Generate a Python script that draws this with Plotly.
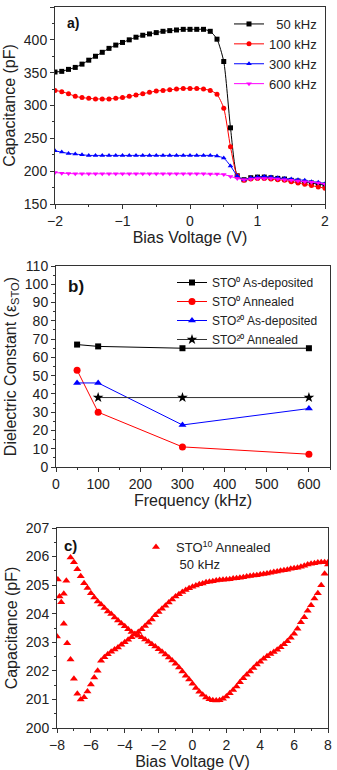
import plotly.graph_objects as go

# ---------------- Panel a: C-V at several frequencies ----------------
bias_a = [-2.0, -1.9, -1.8, -1.7, -1.6, -1.5, -1.4, -1.3, -1.2, -1.1, -1.0,
          -0.9, -0.8, -0.7, -0.6, -0.5, -0.4, -0.3, -0.2, -0.1, 0.0,
          0.1, 0.2, 0.3, 0.4, 0.5, 0.6, 0.7, 0.8, 0.9, 1.0,
          1.1, 1.2, 1.3, 1.4, 1.5, 1.6, 1.7, 1.8, 1.9, 2.0]
cap_50k = [351, 352, 355, 358, 363, 369, 375, 381, 387, 392, 396,
           400, 404, 407, 409, 411, 413, 414, 415, 416, 416,
           416, 416, 413, 401, 367, 266, 193, 187, 190, 191,
           191, 190, 189, 188, 186, 185, 183, 182, 180, 179]
cap_100k = [323, 321, 318, 314, 312, 311, 310, 310, 310, 311, 312,
            314, 316, 318, 320, 322, 323, 324, 325, 326, 326,
            326, 325, 323, 317, 296, 237, 193, 186, 188, 189,
            189, 188, 187, 186, 184, 182, 180, 178, 176, 174]
cap_300k = [231, 229, 227, 226, 225, 224, 224, 224, 224, 224, 224,
            224, 224, 224, 224, 224, 224, 224, 224, 224, 224,
            224, 224, 224, 223, 220, 208, 193, 187, 190, 191,
            192, 191, 190, 189, 188, 187, 186, 184, 183, 181]
cap_600k = [198, 197, 196.5, 196, 196, 196, 196, 196, 196, 196, 196,
            196, 196, 196, 196, 196, 196, 196, 196, 196, 196,
            196, 196, 195.5, 195.5, 195, 192, 189, 187, 188, 189,
            189, 189, 188, 187, 186, 185, 184, 183, 182, 180]
names_a = ["  50 kHz", "100 kHz", "300 kHz", "600 kHz"]

# ---------------- Panel b: dielectric constant vs frequency ----------------
freq = [50, 100, 300, 600]
eps_sto0_asdep = [67, 66, 65, 65]
eps_sto0_ann = [53, 30, 11, 7]
eps_sto20_asdep = [46, 46, 23, 32]
freq_sto20_ann = [100, 300, 600]
eps_sto20_ann = [38, 38, 38]
names_b = ["STO⁰ As-deposited", "STO⁰ Annealed",
           "STO²⁰ As-deposited", "STO²⁰ Annealed"]

# ---------------- Panel c: hysteresis C-V, STO10 annealed 50 kHz ----------------
bias_c_down = [-7.2, -7.0, -6.8, -6.6, -6.4, -6.2, -6.0, -5.8, -5.6, -5.4, -5.2,
               -5.0, -4.8, -4.6, -4.4, -4.2, -4.0, -3.8, -3.6, -3.4, -3.2,
               -3.0, -2.8, -2.6, -2.4, -2.2, -2.0, -1.8, -1.6, -1.4, -1.2,
               -1.0, -0.8, -0.6, -0.4, -0.2, 0.0, 0.2, 0.4, 0.6, 0.8,
               1.0, 1.2, 1.4, 1.6, 1.8, 2.0, 2.2, 2.4, 2.6, 2.8,
               3.0, 3.2, 3.4, 3.6, 3.8, 4.0, 4.2, 4.4, 4.6, 4.8,
               5.0, 5.2, 5.4, 5.6, 5.8, 6.0, 6.2, 6.4, 6.6, 6.8,
               7.0, 7.2, 7.4, 7.6, 7.8, 8.0]
cap_c_down = [205.97, 205.8, 205.56, 205.31, 205.07, 204.9, 204.72, 204.57, 204.43, 204.32, 204.2,
              204.08, 203.99, 203.87, 203.76, 203.66, 203.56, 203.46, 203.36, 203.29, 203.23,
              203.18, 203.1, 203.02, 202.93, 202.85, 202.76, 202.67, 202.57, 202.47, 202.36,
              202.25, 202.12, 201.98, 201.83, 201.7, 201.55, 201.4, 201.27, 201.16, 201.07,
              201.01, 200.97, 200.96, 200.97, 201.02, 201.1, 201.22, 201.33, 201.45, 201.6,
              201.74, 201.86, 201.98, 202.1, 202.22, 202.32, 202.42, 202.51, 202.59, 202.66,
              202.74, 202.83, 202.93, 203.04, 203.16, 203.3, 203.47, 203.7, 203.88, 204.1,
              204.3, 204.53, 204.72, 205.0, 205.4, 205.72]
bias_c_up = [-6.6, -6.4, -6.2, -6.0, -5.8, -5.6, -5.4, -5.2,
             -5.0, -4.8, -4.6, -4.4, -4.2, -4.0, -3.8, -3.6, -3.4, -3.2,
             -3.0, -2.8, -2.6, -2.4, -2.2, -2.0, -1.8, -1.6, -1.4, -1.2,
             -1.0, -0.8, -0.6, -0.4, -0.2, 0.0, 0.2, 0.4, 0.6, 0.8,
             1.0, 1.2, 1.4, 1.6, 1.8, 2.0, 2.2, 2.4, 2.6, 2.8,
             3.0, 3.2, 3.4, 3.6, 3.8, 4.0, 4.2, 4.4, 4.6, 4.8,
             5.0, 5.2, 5.4, 5.6, 5.8, 6.0, 6.2, 6.4, 6.6, 6.8,
             7.0, 7.2, 7.4, 7.6, 7.8, 8.0]
cap_c_up = [201.0, 201.08, 201.28, 201.52, 201.77, 202.0, 202.35, 202.48,
            202.58, 202.67, 202.75, 202.82, 202.91, 203.0, 203.09, 203.18, 203.27, 203.36,
            203.46, 203.57, 203.68, 203.8, 203.95, 204.06, 204.17, 204.28, 204.39, 204.5,
            204.6, 204.68, 204.76, 204.83, 204.89, 204.94, 204.99, 205.03, 205.06, 205.1,
            205.12, 205.14, 205.16, 205.18, 205.19, 205.2, 205.21, 205.23, 205.24, 205.26,
            205.28, 205.3, 205.32, 205.34, 205.35, 205.37, 205.39, 205.41, 205.43, 205.46,
            205.48, 205.5, 205.52, 205.54, 205.57, 205.59, 205.61, 205.64, 205.68, 205.72,
            205.75, 205.77, 205.79, 205.8, 205.8, 205.8]
bias_c_tip = [-8.0, -7.95, -7.85, -7.75, -7.6, -7.45, -7.6, -7.4, -7.2, -7.0, -6.8]
cap_c_tip = [203.2, 205.2, 204.6, 204.4, 204.7, 205.15, 203.65, 202.97, 202.4, 201.72, 201.2]
name_c = "STO<sup>10</sup> Annealed<br> 50 kHz"

FONT = "Arial, Liberation Sans, sans-serif"
W, H = 337, 770

def px_x(a, b):
    return [a / W, b / W]

def px_y(top, bottom):
    return [1 - bottom / H, 1 - top / H]

fig = go.Figure()

# Panel a traces
cols_a = ["#000000", "#ff0000", "#0000ff", "#ff00ff"]
syms_a = ["square", "circle", "triangle-up", "triangle-down"]
for name, ys, c, s in zip(names_a, [cap_50k, cap_100k, cap_300k, cap_600k], cols_a, syms_a):
    fig.add_trace(go.Scatter(
        x=bias_a, y=ys, mode="lines+markers", name=name,
        line=dict(color=c, width=1, shape="spline", smoothing=0.6),
        marker=dict(color=c, symbol=s, size=5),
        xaxis="x", yaxis="y", legend="legend"))

# Panel b traces
fig.add_trace(go.Scatter(x=freq, y=eps_sto0_asdep, mode="lines+markers", name=names_b[0],
                         line=dict(color="#000000", width=1), marker=dict(symbol="square", size=6, color="#000000"),
                         xaxis="x2", yaxis="y2", legend="legend2"))
fig.add_trace(go.Scatter(x=freq, y=eps_sto0_ann, mode="lines+markers", name=names_b[1],
                         line=dict(color="#ff0000", width=1), marker=dict(symbol="circle", size=7, color="#ff0000"),
                         xaxis="x2", yaxis="y2", legend="legend2"))
fig.add_trace(go.Scatter(x=freq, y=eps_sto20_asdep, mode="lines+markers", name=names_b[2],
                         line=dict(color="#0000ff", width=1), marker=dict(symbol="triangle-up", size=7, color="#0000ff"),
                         xaxis="x2", yaxis="y2", legend="legend2"))
fig.add_trace(go.Scatter(x=freq_sto20_ann, y=eps_sto20_ann, mode="lines+markers", name=names_b[3],
                         line=dict(color="#333333", width=1), marker=dict(symbol="star", size=8, color="#000000"),
                         xaxis="x2", yaxis="y2", legend="legend2"))

# Panel c trace
fig.add_trace(go.Scatter(x=bias_c_down + bias_c_up + bias_c_tip,
                         y=cap_c_down + cap_c_up + cap_c_tip,
                         mode="markers", name=name_c,
                         marker=dict(symbol="triangle-up", size=7, color="#ff0000"),
                         xaxis="x3", yaxis="y3", legend="legend3"))

tickfont = dict(family=FONT, size=14, color="#222")
titlefont = dict(family=FONT, size=16, color="#222")

def ax(domain, anchor, rng, dtick, mdtick, title):
    return dict(domain=domain, anchor=anchor, range=rng, dtick=dtick, tick0=0,
                showline=True, linecolor="#333", linewidth=1, mirror=True,
                ticks="outside", ticklen=4, tickcolor="#333",
                minor=dict(ticks="outside", ticklen=2, dtick=mdtick, tickcolor="#333"),
                showgrid=False, zeroline=False, tickfont=tickfont,
                title=dict(text=title, font=titlefont, standoff=4), automargin=False)

fig.update_layout(
    width=W, height=H, margin=dict(l=0, r=0, t=0, b=0),
    paper_bgcolor="white", plot_bgcolor="white",
    font=dict(family=FONT, color="#222"),
    xaxis=ax(px_x(55, 325), "y", [-2, 2], 1, 0.5, "Bias Voltage (V)"),
    yaxis=ax(px_y(7, 204), "x", [150, 450], 50, 25, "Capacitance (pF)"),
    xaxis2=ax(px_x(56, 330), "y2", [0, 650], 100, 50, "Frequency (kHz)"),
    yaxis2=ax(px_y(266, 467), "x2", [0, 110], 10, 5, "Dielectric Constant (ε<sub>STO</sub>)"),
    xaxis3=ax(px_x(57, 328), "y3", [-8, 8], 2, 1, "Bias Voltage (V)"),
    yaxis3=ax(px_y(528, 728), "x3", [200, 207], 1, 0.5, "Capacitance (pF)"),
    legend=dict(x=229 / W, y=1 - 9 / H, xanchor="left", yanchor="top",
                font=dict(family=FONT, size=13, color="#222"), bgcolor="rgba(0,0,0,0)",
                tracegroupgap=0, itemwidth=30),
    legend2=dict(x=172 / W, y=1 - 268 / H, xanchor="left", yanchor="top",
                 font=dict(family=FONT, size=12, color="#222"), bgcolor="rgba(0,0,0,0)",
                 tracegroupgap=0, itemwidth=30),
    legend3=dict(x=136 / W, y=1 - 532 / H, xanchor="left", yanchor="top",
                 font=dict(family=FONT, size=13, color="#222"), bgcolor="rgba(0,0,0,0)",
                 valign="top", itemwidth=30),
    showlegend=True,
    annotations=[
        dict(text="<b>a)</b>", x=65 / W, y=1 - 23 / H, xref="paper", yref="paper",
             xanchor="left", yanchor="middle", showarrow=False, font=dict(family=FONT, size=14, color="#111")),
        dict(text="<b>b)</b>", x=66 / W, y=1 - 286 / H, xref="paper", yref="paper",
             xanchor="left", yanchor="middle", showarrow=False, font=dict(family=FONT, size=17, color="#111")),
        dict(text="<b>c)</b>", x=62 / W, y=1 - 545 / H, xref="paper", yref="paper",
             xanchor="left", yanchor="middle", showarrow=False, font=dict(family=FONT, size=15, color="#111")),
    ],
)

fig.write_html("out.html")
